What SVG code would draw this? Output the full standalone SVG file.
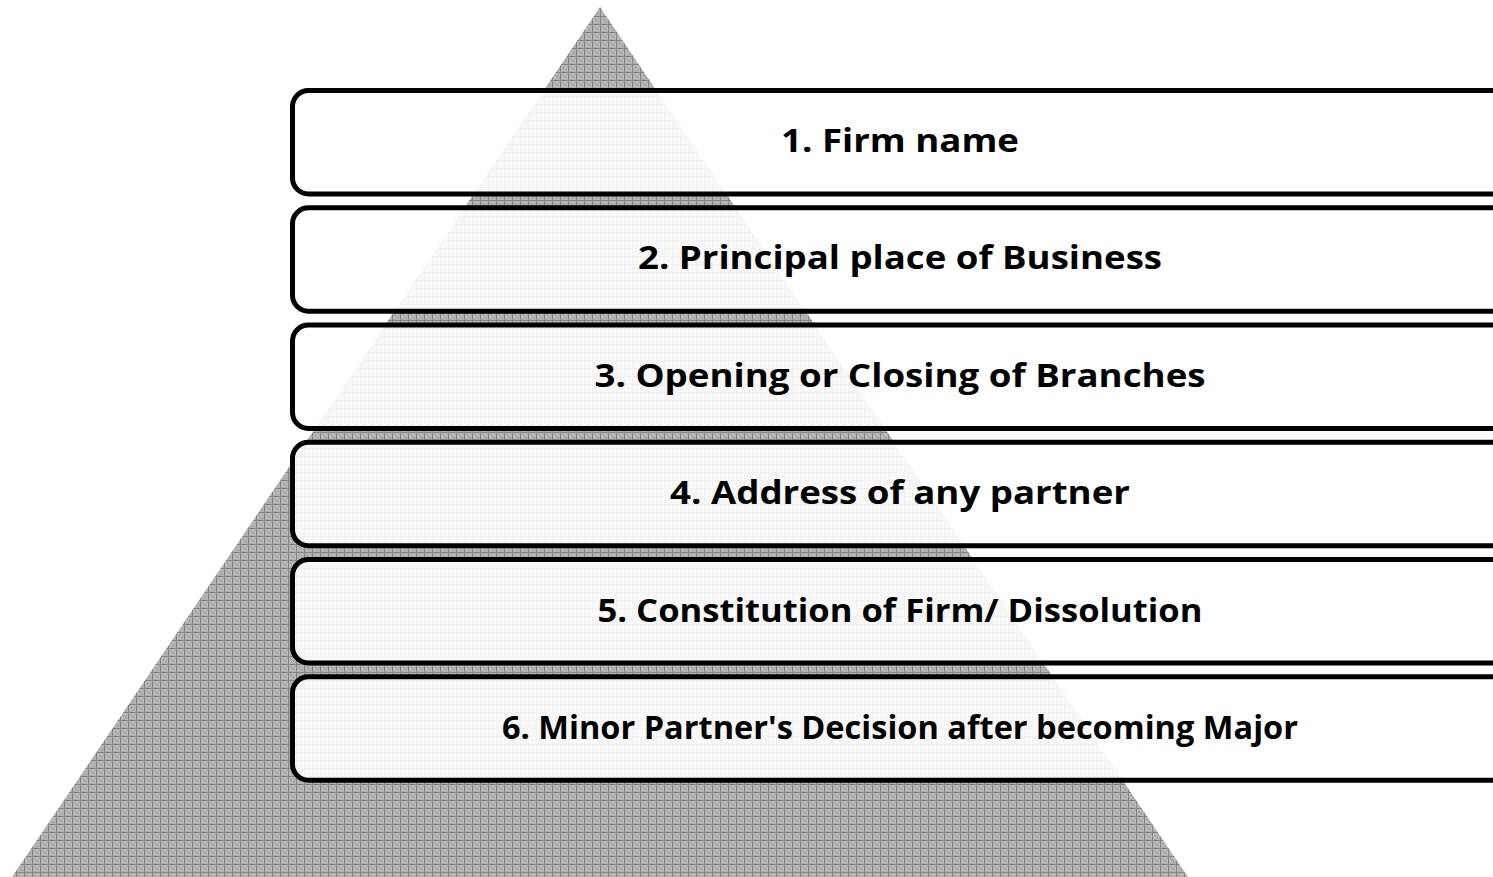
<svg xmlns="http://www.w3.org/2000/svg" width="1493" height="877" viewBox="0 0 1493 877">
<defs>
<pattern id="hatch" width="8" height="8" patternUnits="userSpaceOnUse">
<rect width="8" height="8" fill="#b2b2b2"/>
<rect x="0" y="0" width="8" height="1" fill="#858585"/>
<rect x="0" y="0" width="1" height="8" fill="#858585"/>
<rect x="3" y="3" width="1" height="1" fill="#999999"/>
<rect x="5" y="5" width="1" height="1" fill="#999999"/>
<rect x="5" y="2" width="1" height="1" fill="#c8c8c8"/>
<rect x="2" y="5" width="1" height="1" fill="#c8c8c8"/>
</pattern>
<style>
.box{fill:#ffffff;fill-opacity:0.9;stroke:#000000;stroke-width:5}
.lbl{font-family:"Open Sans","Liberation Sans",sans-serif;font-weight:bold;font-size:33px;fill:#000000;text-anchor:middle}
</style>
</defs>
<rect width="1493" height="877" fill="#ffffff"/>
<polygon id="pyramid" points="600,7 1188,877 12,877" fill="url(#hatch)"/>
<g id="node1"><rect class="box" x="292.5" y="90.5" width="1220" height="103.5" rx="16"/><text class="lbl" x="900" y="152" textLength="238" lengthAdjust="spacingAndGlyphs">1. Firm name</text></g>
<g id="node2"><rect class="box" x="292.5" y="207.75" width="1220" height="103.5" rx="16"/><text class="lbl" x="900" y="269.4" textLength="524" lengthAdjust="spacingAndGlyphs">2. Principal place of Business</text></g>
<g id="node3"><rect class="box" x="292.5" y="325" width="1220" height="103.5" rx="16"/><text class="lbl" x="900" y="386.8" textLength="611" lengthAdjust="spacingAndGlyphs">3. Opening or Closing of Branches</text></g>
<g id="node4"><rect class="box" x="292.5" y="442.25" width="1220" height="103.5" rx="16"/><text class="lbl" x="900" y="504.2" textLength="460" lengthAdjust="spacingAndGlyphs">4. Address of any partner</text></g>
<g id="node5"><rect class="box" x="292.5" y="559.5" width="1220" height="103.5" rx="16"/><text class="lbl" x="900" y="621.6" textLength="605" lengthAdjust="spacingAndGlyphs">5. Constitution of Firm/ Dissolution</text></g>
<g id="node6"><rect class="box" x="292.5" y="676.75" width="1220" height="103.5" rx="16"/><text class="lbl" x="900" y="739" textLength="796" lengthAdjust="spacingAndGlyphs">6. Minor Partner's Decision after becoming Major</text></g>
<g id="connectors"></g>
</svg>
